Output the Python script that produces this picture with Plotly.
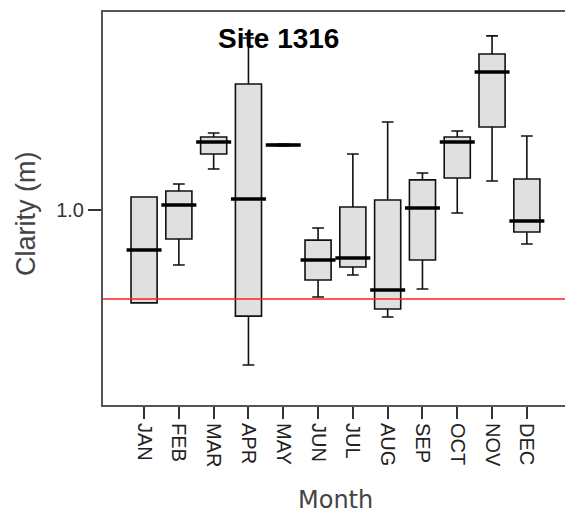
import plotly.graph_objects as go

months = ["JAN", "FEB", "MAR", "APR", "MAY", "JUN", "JUL", "AUG", "SEP", "OCT", "NOV", "DEC"]
lower = [0.478, 0.691, 1.230, 0.129, 1.360, 0.511, 0.635, 0.399, 0.556, 0.983, 1.163, 0.809]
q1 = [0.478, 0.837, 1.315, 0.404, 1.362, 0.607, 0.680, 0.444, 0.719, 1.180, 1.466, 0.876]
median = [0.775, 1.028, 1.382, 1.062, 1.365, 0.719, 0.730, 0.551, 1.011, 1.382, 1.775, 0.938]
q3 = [1.073, 1.107, 1.410, 1.708, 1.368, 0.831, 1.017, 1.056, 1.169, 1.410, 1.876, 1.174]
upper = [1.073, 1.146, 1.433, 1.966, 1.370, 0.899, 1.315, 1.494, 1.208, 1.444, 1.978, 1.416]
reference_line = 0.5
y_ticks = [1.0]
y_tick_labels = ["1.0"]

# screen geometry (body margin removed by post_script)
PL, PT, PW, PH = 103, 12, 462, 393
FIG_W, FIG_H = 565, 518


def px(sx):
    return (sx - PL) / PW


def py(sy):
    return (PT + PH - sy) / PH


fig = go.Figure()
fig.add_trace(go.Box(
    x=months, q1=q1, median=median, q3=q3, lowerfence=lower, upperfence=upper,
    fillcolor="#e0e0e0", line=dict(color="#111111", width=1.6),
    width=0.75, whiskerwidth=0.45, boxpoints=False, showlegend=False,
    hoverinfo="skip",
))
fig.add_trace(go.Scatter(
    x=months, y=median, mode="markers",
    marker=dict(symbol="line-ew", size=25, line=dict(color="#000000", width=3.5)),
    showlegend=False, hoverinfo="skip",
))

fig.add_shape(type="line", xref="paper", yref="y", x0=0, x1=1,
              y0=reference_line, y1=reference_line,
              line=dict(color="#ff2020", width=1.5), layer="above")

fig.update_layout(
    width=FIG_W, height=FIG_H,
    margin=dict(l=PL, r=FIG_W - PL - PW, t=PT, b=FIG_H - PT - PH),
    paper_bgcolor="white", plot_bgcolor="white",
    font=dict(family="Liberation Sans, Arial", color="#222222"),
    xaxis=dict(
        type="category", categoryorder="array", categoryarray=months,
        range=[-1.18, -1.18 + PW / 34.8], showgrid=False, zeroline=False,
        showline=True, linecolor="#555555", linewidth=2, mirror=True,
        ticks="outside", ticklen=12, tickwidth=1.5, tickcolor="#333333",
        tickangle=90, tickfont=dict(size=20, color="#222222"),
    ),
    yaxis=dict(
        range=[1 - 195 / 178, 1 + 198 / 178], showgrid=False, zeroline=False,
        showline=True, linecolor="#555555", linewidth=2,
        ticks="outside", ticklen=13, tickwidth=1.5, tickcolor="#333333",
        tickvals=y_ticks, ticktext=y_tick_labels,
        tickfont=dict(size=20, color="#333333"),
    ),
    annotations=[
        dict(text="<b>Site 1316</b>", xref="paper", yref="paper", x=px(278.5), y=py(38),
             yanchor="middle", xanchor="center", showarrow=False,
             font=dict(size=28, color="#000000")),
        dict(text="Clarity (m)", xref="paper", yref="paper", x=px(26), y=py(214),
             xanchor="center", yanchor="middle", textangle=-90, showarrow=False,
             font=dict(size=27, color="#444444")),
        dict(text="Month", xref="paper", yref="paper", x=px(335), y=py(500),
             xanchor="center", yanchor="middle", showarrow=False,
             font=dict(size=24, color="#444444", family="DejaVu Sans")),
    ],
)

post = ("document.body.style.margin='0';"
        "document.documentElement.style.overflow='hidden';"
        "document.body.style.overflow='hidden';")
fig.write_html("out.html", post_script=post, config={"displayModeBar": False})
